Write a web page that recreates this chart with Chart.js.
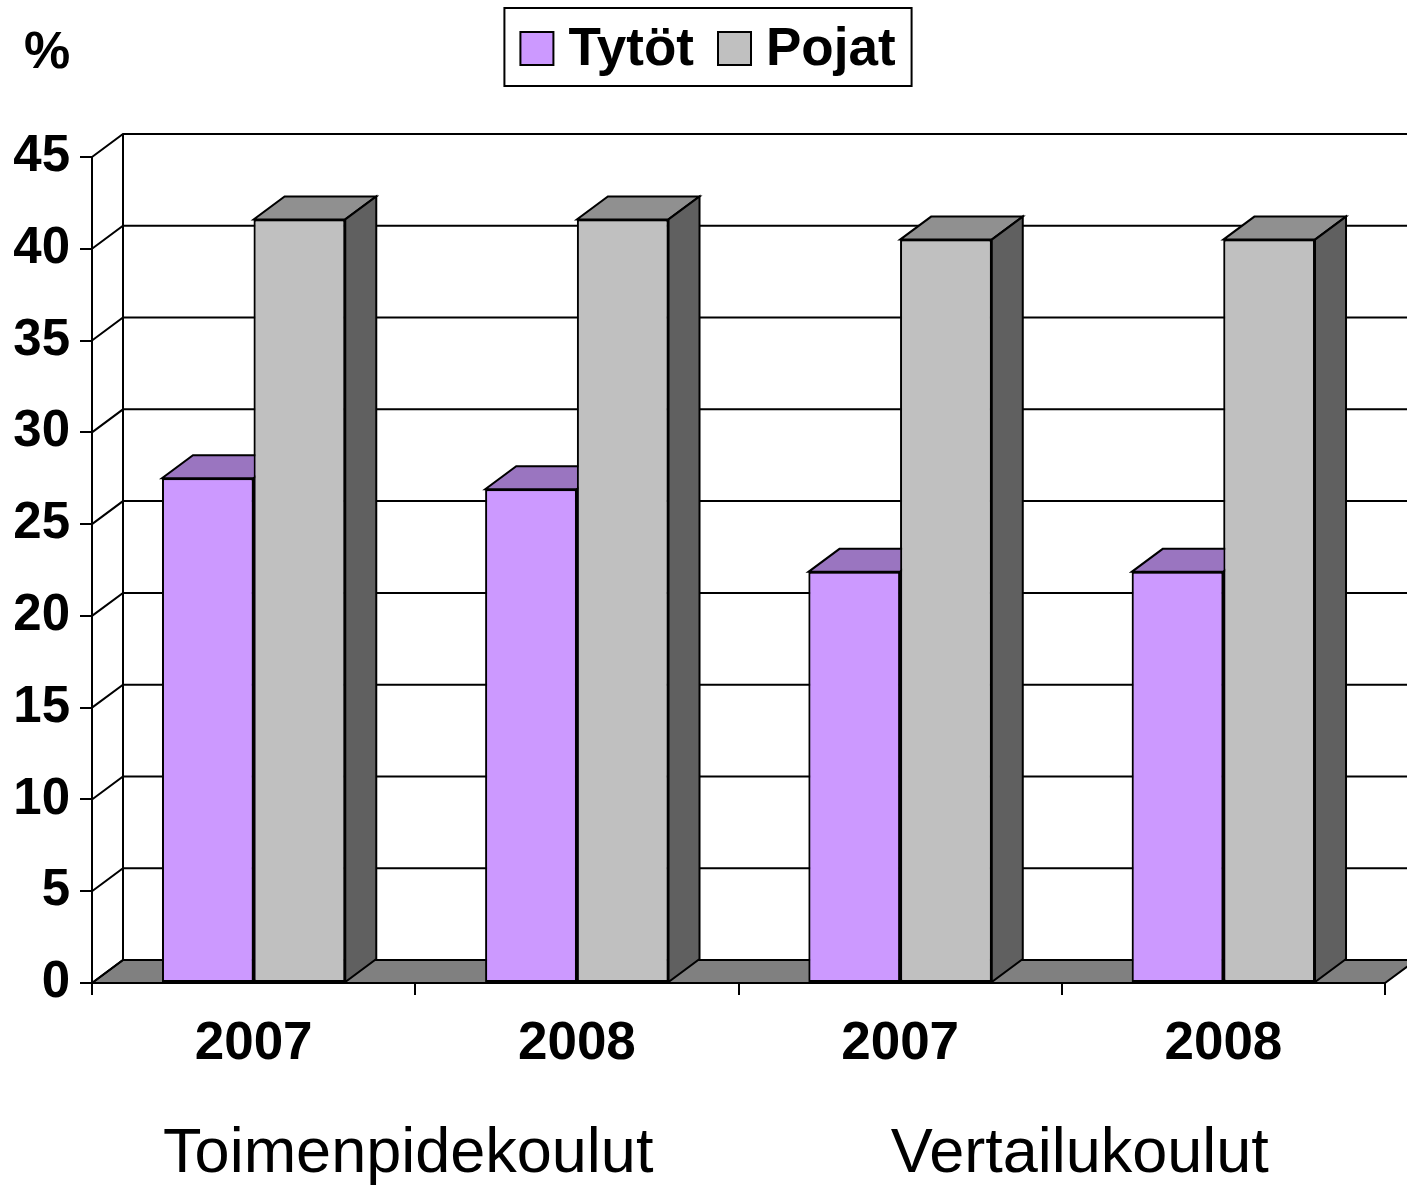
<!DOCTYPE html>
<html>
<head>
<meta charset="utf-8">
<title>Tytöt ja pojat</title>
<script src="https://cdn.jsdelivr.net/npm/chart.js@4.4.1/dist/chart.umd.min.js"></script>
<style>
    body { margin: 0; background: #fff; }
    canvas { display: block; }
</style>
</head>
<body>
<canvas id="chart" width="1407" height="1185"></canvas>
<script>
// Values (%)
const years = [ '2007', '2008', '2007', '2008' ];
const schoolGroups = [ 'Toimenpidekoulut', 'Vertailukoulut' ];
const girls = [ 27.5, 26.9, 22.4, 22.4 ];
const boys = [ 41.6, 41.6, 40.5, 40.5 ];
const yTicks = [ 0, 5, 10, 15, 20, 25, 30, 35, 40, 45 ];

const FONT = "'Liberation Sans', Arial, sans-serif";
// depth of the 3d box
const DX = 31;
const DY = 23;

function face ( ctx, pts, color )
{
    ctx.beginPath();
    ctx.moveTo( pts[ 0 ][ 0 ], pts[ 0 ][ 1 ] );
    for ( let i = 1; i < pts.length; i++ ) ctx.lineTo( pts[ i ][ 0 ], pts[ i ][ 1 ] );
    ctx.closePath();
    ctx.fillStyle = color;
    ctx.fill();
    ctx.stroke();
}

let depthPlugin = {
    id: 'depth',
    beforeDatasetsDraw ( chart )
    {
        let { ctx, chartArea: a, scales: { y } } = chart;
        ctx.save();
        ctx.lineWidth = 2;
        ctx.strokeStyle = '#000';
        // floor
        face( ctx, [ [ a.left, a.bottom ], [ a.left + DX, a.bottom - DY ], [ a.right + DX, a.bottom - DY ], [ a.right, a.bottom ] ], '#808080' );
        // side wall diagonals and back wall grid lines
        y.ticks.forEach( t =>
        {
            let py = y.getPixelForValue( t.value );
            ctx.beginPath();
            ctx.moveTo( a.left, py );
            ctx.lineTo( a.left + DX, py - DY );
            ctx.lineTo( a.right + DX, py - DY );
            ctx.stroke();
        } );
        ctx.beginPath();
        ctx.moveTo( a.left + DX, a.top - DY );
        ctx.lineTo( a.left + DX, a.bottom - DY );
        ctx.stroke();
        ctx.restore();
    },
    afterDatasetsDraw ( chart )
    {
        let ctx = chart.ctx;
        let sets = chart.data.datasets;
        for ( let j = 0; j < chart.data.labels.length; j++ )
        {
            sets.forEach( ( ds, i ) =>
            {
                let bar = chart.getDatasetMeta( i ).data[ j ];
                bar.draw( ctx );
                let { x, y, base, width } = bar.getProps( [ 'x', 'y', 'base', 'width' ], true );
                let l = x - width / 2, r = x + width / 2;
                ctx.save();
                ctx.lineWidth = 2;
                ctx.strokeStyle = '#000';
                face( ctx, [ [ l, y ], [ r, y ], [ r + DX, y - DY ], [ l + DX, y - DY ] ], ds.topColor );
                face( ctx, [ [ r, y ], [ r + DX, y - DY ], [ r + DX, base - DY ], [ r, base ] ], ds.sideColor );
                ctx.restore();
            } );
        }
    },
    afterDraw ( chart )
    {
        let { ctx, scales: { x } } = chart;
        ctx.save();
        ctx.fillStyle = '#000';
        ctx.strokeStyle = '#000';
        ctx.lineWidth = 2;

        // legend with a frame
        ctx.font = 'bold 53px ' + FONT;
        ctx.textBaseline = 'alphabetic';
        let items = chart.data.datasets.map( d => ( { text: d.label, color: d.backgroundColor, w: ctx.measureText( d.label ).width } ) );
        let sw = 33, gap = 15, space = 24, pad = 16;
        let total = items.reduce( ( s, it ) => s + sw + gap + it.w, 0 ) + space * ( items.length - 1 );
        let lx = 708 - total / 2;
        ctx.strokeRect( lx - pad, 8, total + pad * 2, 78 );
        items.forEach( it =>
        {
            ctx.fillStyle = it.color;
            ctx.fillRect( lx, 32, sw, sw );
            ctx.strokeRect( lx, 32, sw, sw );
            ctx.fillStyle = '#000';
            ctx.fillText( it.text, lx + sw + gap, 65 );
            lx += sw + gap + it.w + space;
        } );

        // unit
        ctx.font = 'bold 52px ' + FONT;
        ctx.fillText( '%', 24, 68 );

        // school group names under the years
        ctx.font = '63px ' + FONT;
        ctx.textAlign = 'center';
        let shift = [ -7, 18 ];
        schoolGroups.forEach( ( g, k ) =>
        {
            let cx = ( x.getPixelForValue( k * 2 ) + x.getPixelForValue( k * 2 + 1 ) ) / 2 + shift[ k ];
            ctx.fillText( g, cx, 1172 );
        } );
        ctx.restore();
    }
};

let ctx = document.getElementById( 'chart' ).getContext( '2d' );
let chart = new Chart( ctx, {
    type: 'bar',
    data: {
        labels: years,
        datasets: [ {
            label: 'Tytöt',
            data: girls,
            backgroundColor: '#CC99FF',
            topColor: '#9A75C0',
            sideColor: '#664C80',
            borderColor: '#000',
            borderWidth: 2,
            borderSkipped: false
        }, {
            label: 'Pojat',
            data: boys,
            backgroundColor: '#C0C0C0',
            topColor: '#909090',
            sideColor: '#606060',
            borderColor: '#000',
            borderWidth: 2,
            borderSkipped: false
        } ]
    },
    options: {
        responsive: false,
        animation: false,
        devicePixelRatio: 1,
        categoryPercentage: 0.567,
        barPercentage: 1,
        layout: { padding: { top: 157, right: 22, left: 0, bottom: 0 } },
        plugins: {
            legend: { display: false },
            tooltip: { enabled: false }
        },
        scales: {
            x: {
                afterFit: s => { s.height = 202; },
                grid: { offset: true, drawOnChartArea: false, tickLength: 12, color: '#000', lineWidth: 2 },
                border: { color: '#000', width: 2 },
                ticks: { color: '#000', padding: 18, font: { family: FONT, size: 53, weight: 'bold' } }
            },
            y: {
                min: 0,
                max: 45,
                afterFit: s => { s.width = 92; },
                afterBuildTicks: s => { s.ticks = yTicks.map( v => ( { value: v } ) ); },
                grid: { drawOnChartArea: false, tickLength: 12, color: '#000', lineWidth: 2 },
                border: { color: '#000', width: 2 },
                ticks: { color: '#000', padding: 10, font: { family: FONT, size: 51, weight: 'bold' } }
            }
        }
    },
    plugins: [ depthPlugin ]
} );
</script>
</body>
</html>
